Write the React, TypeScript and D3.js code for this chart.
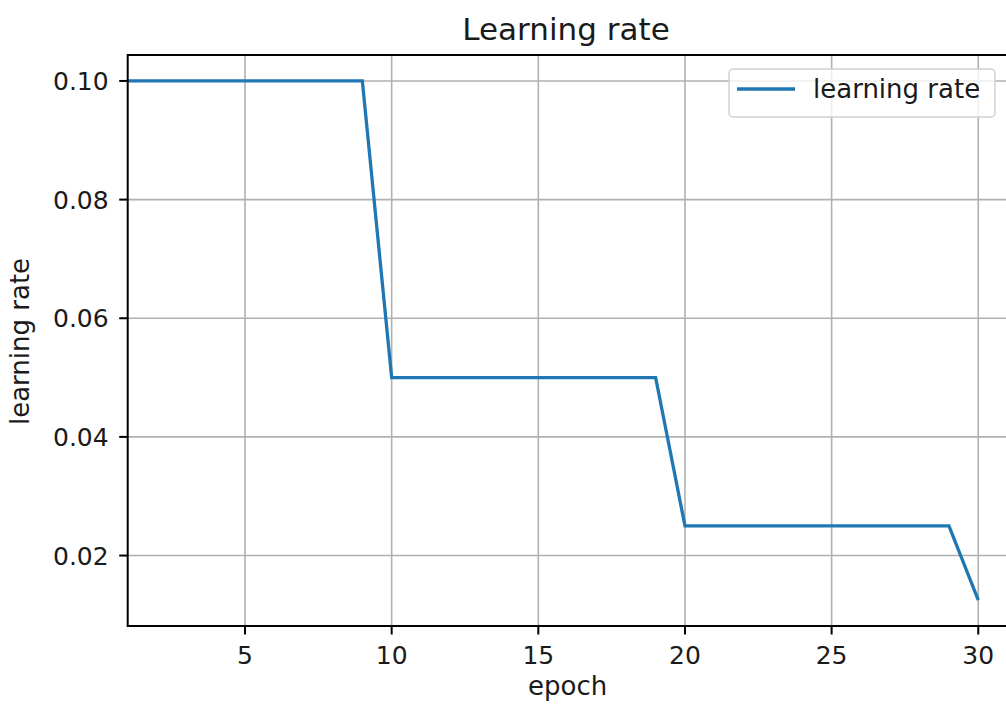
import React from "react";
import * as d3 from "d3";

// Step-decay learning-rate schedule, one value per epoch
const epochs: number[] = Array.from({ length: 30 }, (_, i) => i + 1);
const learningRates: number[] = [
  0.1, 0.1, 0.1, 0.1, 0.1, 0.1, 0.1, 0.1, 0.1,
  0.05, 0.05, 0.05, 0.05, 0.05, 0.05, 0.05, 0.05, 0.05, 0.05,
  0.025, 0.025, 0.025, 0.025, 0.025, 0.025, 0.025, 0.025, 0.025, 0.025,
  0.0125,
];
const xTicks: number[] = [5, 10, 15, 20, 25, 30];
const yTicks: number[] = [0.02, 0.04, 0.06, 0.08, 0.1];

const W = 1006;
const H = 709;
const FONT = "'DejaVu Sans', sans-serif";

export default function App() {
  const left = 127.7;
  const right = 1007.6;
  const top = 55;
  const bottom = 626;

  const x = d3.scaleLinear().domain([1, 31]).range([left, right]);
  const yMin = 0.0125 - 0.0875 * 0.05;
  const yMax = 0.1 + 0.0875 * 0.05;
  const y = d3.scaleLinear().domain([yMin, yMax]).range([bottom, top]);

  const pts: [number, number][] = epochs.map((e, i) => [e, learningRates[i]]);
  const line = d3
    .line<[number, number]>()
    .x((d) => x(d[0]))
    .y((d) => y(d[1]));

  return (
    <svg
      width={W}
      height={H}
      style={{ position: "absolute", left: 0, top: 0, background: "#fff" }}
      fontFamily={FONT}
    >
      <rect x={0} y={0} width={W} height={H} fill="#fff" />
      <defs>
        <clipPath id="plot">
          <rect x={left} y={top} width={right - left} height={bottom - top} />
        </clipPath>
      </defs>

      {/* grid */}
      <g stroke="#b0b0b0" strokeWidth={1.6}>
        {xTicks.map((t) => (
          <line key={"gx" + t} x1={x(t)} x2={x(t)} y1={top} y2={bottom} />
        ))}
        {yTicks.map((t) => (
          <line key={"gy" + t} x1={left} x2={right} y1={y(t)} y2={y(t)} />
        ))}
      </g>

      {/* data line */}
      <path
        d={line(pts) || ""}
        fill="none"
        stroke="#1f77b4"
        strokeWidth={3.3}
        strokeLinejoin="miter"
        clipPath="url(#plot)"
      />

      {/* spines */}
      <rect
        x={left}
        y={top}
        width={right - left}
        height={bottom - top}
        fill="none"
        stroke="#000"
        strokeWidth={2}
      />

      {/* x ticks */}
      <g>
        {xTicks.map((t) => (
          <g key={"xt" + t}>
            <line x1={x(t)} x2={x(t)} y1={bottom} y2={bottom + 8.5} stroke="#000" strokeWidth={2} />
            <text x={x(t)} y={bottom + 38} textAnchor="middle" fontSize={25} fill="#1a1a1a">
              {String(t)}
            </text>
          </g>
        ))}
      </g>

      {/* y ticks */}
      <g>
        {yTicks.map((t) => (
          <g key={"yt" + t}>
            <line x1={left - 8.5} x2={left} y1={y(t)} y2={y(t)} stroke="#000" strokeWidth={2} />
            <text
              x={left - 19}
              y={y(t)}
              dy="0.36em"
              textAnchor="end"
              fontSize={25}
              fill="#1a1a1a"
            >
              {d3.format(".2f")(t)}
            </text>
          </g>
        ))}
      </g>

      {/* axis labels and title */}
      <text x={(left + right) / 2} y={695} textAnchor="middle" fontSize={26} fill="#1a1a1a">
        epoch
      </text>
      <text
        transform={`translate(29, ${(top + bottom) / 2 + 1}) rotate(-90)`}
        textAnchor="middle"
        fontSize={26}
        fill="#1a1a1a"
      >
        learning rate
      </text>
      <text x={566} y={40} textAnchor="middle" fontSize={31} fill="#1a1a1a">
        Learning rate
      </text>

      {/* legend */}
      <g>
        <rect x={729} y={69} width={266} height={48} rx={4} fill="#fff" fillOpacity={0.8} stroke="#d0d0d0" strokeWidth={1.5} />
        <line x1={737} x2={795} y1={89} y2={89} stroke="#1f77b4" strokeWidth={3.3} />
        <text x={813} y={89} dy="0.36em" fontSize={26} fill="#1a1a1a">
          learning rate
        </text>
      </g>
    </svg>
  );
}
